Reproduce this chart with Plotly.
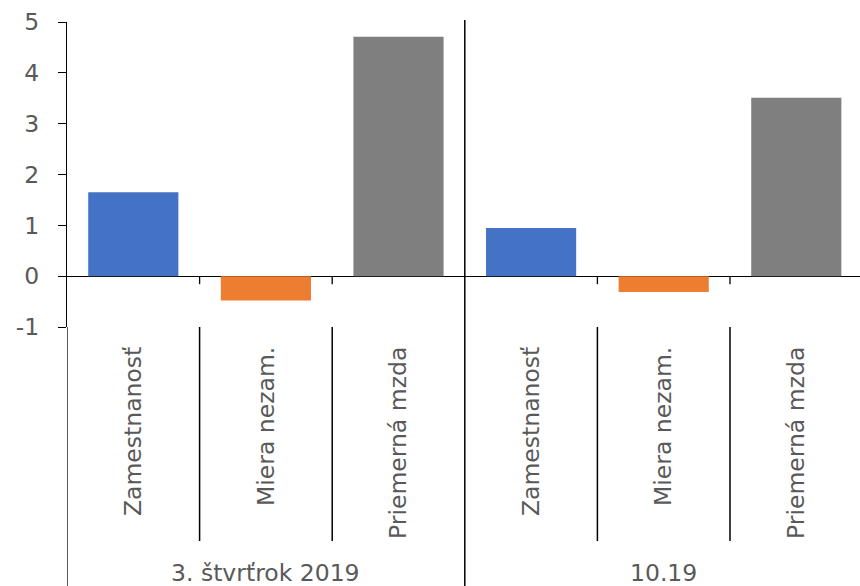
import plotly.graph_objects as go

groups = ["3. štvrťrok 2019", "10.19"]
categories = ["Zamestnanosť", "Miera nezam.", "Priemerná mzda"]
values_q3 = [1.65, -0.48, 4.71]
values_oct = [0.95, -0.31, 3.51]
colors = ["#4472C4", "#ED7D31", "#7F7F7F"]
y_ticks = [-1, 0, 1, 2, 3, 4, 5]
y_tick_text = ["-1", "0", "1", "2", "3", "4", "5"]

all_vals = values_q3 + values_oct
n = len(all_vals)
xs = list(range(n))
labels = categories * len(groups)
bar_colors = colors * len(groups)

W, H = 860, 586
ml, mt, mb = 67, 22, 259
plot_w = W - ml
cat_px = 132.6
x_max = -0.5 + plot_w / cat_px

fig = go.Figure()
fig.add_trace(go.Bar(x=xs, y=all_vals, marker=dict(color=bar_colors, line=dict(width=0)),
                     showlegend=False, hoverinfo="skip"))

font_family = "DejaVu Sans"
gray = "#595959"
fs = 23.5

fig.update_layout(
    width=W, height=H,
    margin=dict(l=ml, r=0, t=mt, b=mb, pad=0),
    paper_bgcolor="white", plot_bgcolor="white",
    bargap=0.32,
    font=dict(family=font_family, size=fs, color=gray),
    xaxis=dict(range=[-0.5, x_max], tickmode="array", tickvals=xs, ticktext=labels,
               tickangle=-90, showline=False, showgrid=False, zeroline=False,
               ticks="", ticklabelstandoff=14,
               tickfont=dict(family=font_family, size=fs, color=gray)),
    yaxis=dict(range=[-1, 5], tickmode="array", tickvals=y_ticks, ticktext=y_tick_text,
               showline=True, linecolor="black", linewidth=1.3,
               ticks="outside", ticklen=8, tickcolor="black", tickwidth=1.3,
               ticklabelstandoff=14,
               showgrid=False, zeroline=True, zerolinecolor="black", zerolinewidth=1.3,
               tickfont=dict(family=font_family, size=fs, color=gray)),
)

# separators between categories and groups
ncat = len(categories)
plot_h = H - mt - mb
def py(pix):
    return (H - mb - pix) / plot_h

for i in range(n + 1):
    bx = i - 0.5
    if i % ncat == 0:
        if i == 0:
            fig.add_shape(type="line", xref="x", yref="paper", x0=bx, x1=bx, y0=0, y1=py(H + 5),
                          line=dict(color="black", width=1.3))
        else:
            fig.add_shape(type="line", xref="x", yref="paper", x0=bx, x1=bx, y0=py(20), y1=py(H + 5),
                          line=dict(color="black", width=1.5))
    else:
        fig.add_shape(type="line", xref="x", yref="paper", x0=bx, x1=bx, y0=0, y1=py(541),
                      line=dict(color="black", width=1.5))
        fig.add_shape(type="line", xref="x", yref="y", x0=bx, x1=bx, y0=0, y1=-8 / (plot_h / 6),
                      line=dict(color="black", width=1.3))

for g, name in enumerate(groups):
    cx = g * ncat + (ncat - 1) / 2
    fig.add_annotation(x=cx, xref="x", y=py(573), yref="paper", text=name, showarrow=False,
                       xanchor="center", yanchor="middle",
                       font=dict(family=font_family, size=fs, color=gray))

fig.write_html("out.html")
